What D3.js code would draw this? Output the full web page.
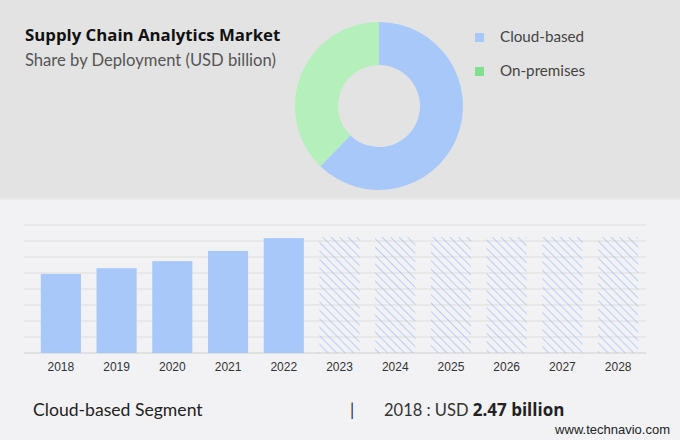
<!DOCTYPE html>
<html><head><meta charset="utf-8">
<script src="https://cdn.jsdelivr.net/npm/d3@7"></script>
<style>html,body{margin:0;padding:0;background:#f2f2f4;}svg{display:block;}</style>
</head><body>
<svg id="c" width="680" height="440"></svg>
<script>
const years = ["2018","2019","2020","2021","2022","2023","2024","2025","2026","2027","2028"];
const values = [2.47, 2.65, 2.87, 3.19, 3.59, 3.62, 3.62, 3.62, 3.62, 3.62, 3.62];
const forecast = [false,false,false,false,false,true,true,true,true,true,true];
const shareLabels = ["Cloud-based","On-premises"];
const shareValues = [62.3, 37.7];
const donutColors = ["#a8c8fa","#b4efbc"];
const legendColors = ["#a8c8fa","#7fe08f"];
const yTicks = [0,0.5,1,1.5,2,2.5,3,3.5,4];

const svg = d3.select("#c");
svg.append("rect").attr("x",0).attr("y",0).attr("width",680).attr("height",440).attr("fill","#f2f2f4");
svg.append("rect").attr("x",0).attr("y",0).attr("width",680).attr("height",198).attr("fill","#e3e3e3");
svg.append("rect").attr("x",0).attr("y",198).attr("width",680).attr("height",2).attr("fill","#ebebeb");

svg.append("text").attr("x",25).attr("y",41).text("Supply Chain Analytics Market")
  .attr("font-family","'Open Sans', sans-serif").attr("font-weight","bold").attr("font-size",16.8).attr("fill","#111");
svg.append("text").attr("x",25).attr("y",66).text("Share by Deployment (USD billion)")
  .attr("font-family","'Lato', sans-serif").attr("font-size",16.6).attr("fill","#555");

// donut
const pie = d3.pie().sort(null).value(d=>d);
const arc = d3.arc().innerRadius(41).outerRadius(84);
const dg = svg.append("g").attr("transform","translate(379,106)");
dg.selectAll("path").data(pie(shareValues)).join("path").attr("d",arc).attr("fill",(d,i)=>donutColors[i]);

// legend
const lg = svg.append("g");
shareLabels.forEach((s,i)=>{
  lg.append("rect").attr("x",475).attr("y",33+i*34).attr("width",9).attr("height",9).attr("fill",legendColors[i]);
  lg.append("text").attr("x",500).attr("y",42+i*34).text(s)
    .attr("font-family","'Lato', sans-serif").attr("font-size",15.2).attr("fill","#444");
});

// bar chart
const x = d3.scaleBand().domain(years).range([33,646]).paddingInner(0.28).paddingOuter(0.14);
const y = d3.scaleLinear().domain([0,4]).range([353,225]);

const defs = svg.append("defs");
const pat = defs.append("pattern").attr("id","hatch").attr("patternUnits","userSpaceOnUse")
  .attr("width",6).attr("height",6).attr("patternTransform","rotate(-45)");
pat.append("line").attr("x1",0).attr("y1",0).attr("x2",0).attr("y2",6).attr("stroke","#9fc0f6").attr("stroke-width",1.4);

const grid = svg.append("g");
grid.selectAll("line").data(yTicks).join("line")
  .attr("x1",24).attr("x2",646).attr("y1",d=>y(d)).attr("y2",d=>y(d))
  .attr("stroke",(d)=>d===0?"#cfcfcf":"#dedede").attr("stroke-width",1);

svg.append("g").selectAll("rect").data(years).join("rect")
  .attr("x",d=>x(d)).attr("width",x.bandwidth())
  .attr("y",(d,i)=>y(values[i])).attr("height",(d,i)=>y(0)-y(values[i]))
  .attr("fill",(d,i)=>forecast[i]?"url(#hatch)":"#a8c8fa");

const xa = svg.append("g").attr("transform","translate(0,353)").call(d3.axisBottom(x).tickSize(0).tickPadding(9));
xa.select(".domain").remove();
xa.selectAll("text").attr("font-family","'Liberation Sans', Arial, sans-serif").attr("font-size",12).attr("fill","#333");

// footer
svg.append("text").attr("x",33).attr("y",416).text("Cloud-based Segment")
  .attr("font-family","'Lato', sans-serif").attr("font-size",17.6).attr("fill","#222");
svg.append("text").attr("x",350).attr("y",416).text("|")
  .attr("font-family","'Lato', sans-serif").attr("font-size",17).attr("fill","#333");
const ft = svg.append("text").attr("x",384).attr("y",416)
  .attr("font-family","'Lato', sans-serif").attr("font-size",16.5).attr("fill","#333");
ft.append("tspan").text(years[0]+" : USD ");
ft.append("tspan").text(values[0].toFixed(2)+" billion").attr("font-weight","bold").attr("font-family","'Open Sans', sans-serif").attr("font-size",17).attr("fill","#222");
svg.append("text").attr("x",670).attr("y",434).attr("text-anchor","end").text("www.technavio.com")
  .attr("font-family","'Liberation Sans', Arial, sans-serif").attr("font-size",13).attr("fill","#222");
</script>
</body></html>
